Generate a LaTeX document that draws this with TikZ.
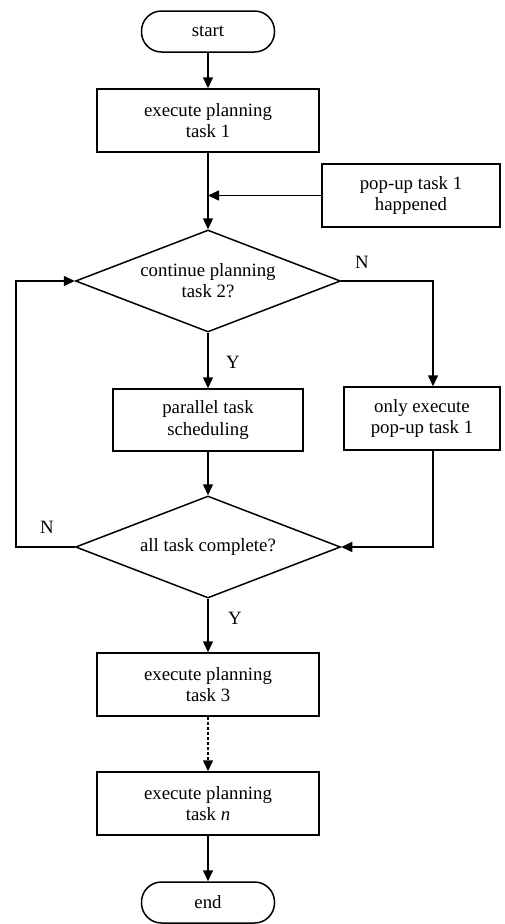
\documentclass[tikz,border=0pt]{standalone}
\usepackage{fontspec}
\setmainfont{Liberation Serif}
\usetikzlibrary{shapes.geometric,arrows.meta}
\begin{document}
\begin{tikzpicture}[x=1pt,y=-1pt,
  font=\fontsize{18.8}{21}\selectfont,
  line width=1.5pt,
  box/.style={draw,rectangle,align=center,inner sep=0pt},
  term/.style={draw,rectangle,rounded corners=20pt,inner sep=0pt,minimum width=133pt,minimum height=41pt},
  dec/.style={draw,diamond,aspect=2.6,inner sep=0pt,minimum width=265pt,minimum height=102pt,align=center},
  arr/.style={-{Triangle[length=11pt,width=10pt]}},
  lab/.style={inner sep=0pt}]
\useasboundingbox (0,0) rectangle (505,924);
\node[term] (start) at (208,31.5) {start};
\node[box,minimum width=222pt,minimum height=63pt] (b1) at (208,120.5) {execute planning\\task 1};
\node[box,minimum width=178pt,minimum height=63pt] (pop) at (411,195.5) {pop-up task 1\\happened};
\node[dec] (d1) at (208,281) {continue planning\\task 2?};
\node[box,minimum width=190pt,minimum height=62pt] (par) at (208,420) {parallel task\\scheduling};
\node[box,minimum width=156pt,minimum height=63pt] (only) at (422,418.5) {only execute\\pop-up task 1};
\node[dec] (d2) at (208,547) {all task complete?};
\node[box,minimum width=222pt,minimum height=63pt] (b3) at (208,684.5) {execute planning\\task 3};
\node[box,minimum width=222pt,minimum height=63pt] (bn) at (208,803.5) {execute planning\\task \textit{n}};
\node[term] (end) at (208,902.5) {end};
\coordinate (join) at (b1.south |- pop.west);
\coordinate (lft) at (16,547);
\coordinate (ontop) at ([xshift=11pt]only.north);
\coordinate (onbot) at ([xshift=11pt]only.south);
\node[lab] (n1) at (362,262) {N};
\node[lab] (y1) at (233,362) {Y};
\node[lab] (n2) at (47,527) {N};
\node[lab] (y2) at (235,618) {Y};
\draw[arr] (start) -- (b1);
\draw[arr] (b1) -- (d1.north);
\draw[arr] (pop.west) -- (join);
\draw[arr] (d1.south) -- (par.north);
\draw[arr] (d1.east) -| (ontop);
\draw[arr] (par.south) -- (d2.north);
\draw[arr] (onbot) |- (d2.east);
\draw[arr] (d2.west) -- (lft) |- (d1.west);
\draw[arr] (d2.south) -- (b3.north);
\draw[arr,dash pattern=on 3pt off 2pt] (b3.south) -- (bn.north);
\draw[arr] (bn.south) -- (end.north);
\end{tikzpicture}
\end{document}
